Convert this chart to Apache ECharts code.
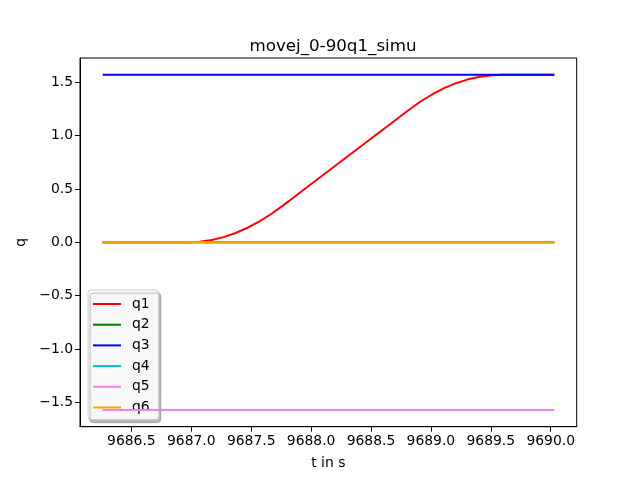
<!DOCTYPE html>
<html>
<head>
<meta charset="utf-8">
<script src="https://cdn.jsdelivr.net/npm/echarts@6/dist/echarts.min.js"></script>
<style>
  html, body { margin: 0; padding: 0; background: #fff; }
  #chart { width: 640px; height: 480px; }
</style>
</head>
<body>
<div id="chart"></div>
<script>
// time stamps for the moving joint (s)
var tQ1 = [9686.26, 9686.97, 9687.07, 9687.17, 9687.27, 9687.37, 9687.47, 9687.57,
           9687.67, 9687.77, 9687.87, 9687.99, 9688.40, 9688.81, 9688.91, 9689.01,
           9689.11, 9689.21, 9689.31, 9689.41, 9689.51, 9689.59, 9690.03];
var q1 = [0, 0, 0.005, 0.022, 0.049, 0.088, 0.137, 0.197,
          0.268, 0.349, 0.434, 0.537, 0.886, 1.236, 1.318, 1.386,
          1.445, 1.492, 1.528, 1.553, 1.567, 1.5708, 1.5708];

// the other joints stay still: start and end of the record
var tFixed = [9686.26, 9690.03];
var q2 = [0, 0];
var q3 = [1.5708, 1.5708];
var q4 = [0, 0];
var q5 = [-1.5708, -1.5708];
var q6 = [0, 0];

var xTicks = [9686.5, 9687.0, 9687.5, 9688.0, 9688.5, 9689.0, 9689.5, 9690.0];
var yTicks = [-1.5, -1.0, -0.5, 0.0, 0.5, 1.0, 1.5];

var names = ['q1', 'q2', 'q3', 'q4', 'q5', 'q6'];
var colors = ['#ff0000', '#008000', '#0000ff', '#00bfbf', '#ee82ee', '#ffa500'];

function pairs(t, v) {
    return t.map(function (x, i) { return [x, v[i]]; });
}

function fmt(v) {
    var s = v.toFixed(1);
    return v < 0 ? '\u2212' + s.slice(1) : s;
}

var font = 'DejaVu Sans';
var chart = echarts.init(document.getElementById('chart'));

var seriesData = [pairs(tQ1, q1), pairs(tFixed, q2), pairs(tFixed, q3),
                  pairs(tFixed, q4), pairs(tFixed, q5), pairs(tFixed, q6)];

var option = {
    animation: false,
    backgroundColor: '#fff',
    color: colors,
    title: {
        text: 'movej_0-90q1_simu',
        left: 328,
        top: 33,
        textAlign: 'center',
        textStyle: { fontFamily: font, fontSize: 16.7, fontWeight: 'normal', color: '#000' }
    },
    grid: {
        left: 80, right: 63.3, top: 58, bottom: 53.3,
        show: true, borderColor: '#000', borderWidth: 1, backgroundColor: 'transparent'
    },
    legend: {
        orient: 'vertical',
        left: 88,
        top: 290,
        data: names,
        icon: 'rect',
        itemWidth: 28,
        itemHeight: 2,
        itemGap: 6.7,
        padding: [7, 9, 5, 5],
        backgroundColor: 'rgba(255,255,255,0.9)',
        borderColor: '#cccccc',
        borderWidth: 1,
        borderRadius: 3,
        shadowColor: 'rgba(0,0,0,0.3)',
        shadowOffsetX: 2,
        shadowOffsetY: 3,
        shadowBlur: 1,
        textStyle: { fontFamily: font, fontSize: 13.9, color: '#000', lineHeight: 14, padding: [0, 0, 0, 6] }
    },
    xAxis: {
        type: 'value',
        min: 9686.071,
        max: 9690.217,
        name: 't in s',
        nameLocation: 'middle',
        nameGap: 30,
        nameTextStyle: { fontFamily: font, fontSize: 13.9, color: '#000' },
        axisLine: { show: true, onZero: false, lineStyle: { color: '#000', width: 1 } },
        axisTick: { show: true, inside: false, length: 5, customValues: xTicks, lineStyle: { color: '#000' } },
        axisLabel: {
            customValues: xTicks,
            margin: 8,
            fontFamily: font, fontSize: 13.9, color: '#000',
            formatter: function (v) { return v.toFixed(1); }
        },
        splitLine: { show: false }
    },
    yAxis: {
        type: 'value',
        min: -1.728,
        max: 1.728,
        name: 'q',
        nameLocation: 'middle',
        nameGap: 40,
        nameTextStyle: { fontFamily: font, fontSize: 13.9, color: '#000' },
        axisLine: { show: true, onZero: false, lineStyle: { color: '#000', width: 1 } },
        axisTick: { show: true, inside: false, length: 5, customValues: yTicks, lineStyle: { color: '#000' } },
        axisLabel: {
            customValues: yTicks,
            margin: 7,
            fontFamily: font, fontSize: 13.9, color: '#000',
            formatter: fmt
        },
        splitLine: { show: false }
    },
    series: names.map(function (n, i) {
        return {
            name: n,
            type: 'line',
            data: seriesData[i],
            showSymbol: false,
            symbol: 'none',
            smooth: false,
            lineStyle: { width: 2, color: colors[i] },
            itemStyle: { color: colors[i] },
            z: 2 + i
        };
    })
};
chart.setOption(option);
</script>
</body>
</html>
